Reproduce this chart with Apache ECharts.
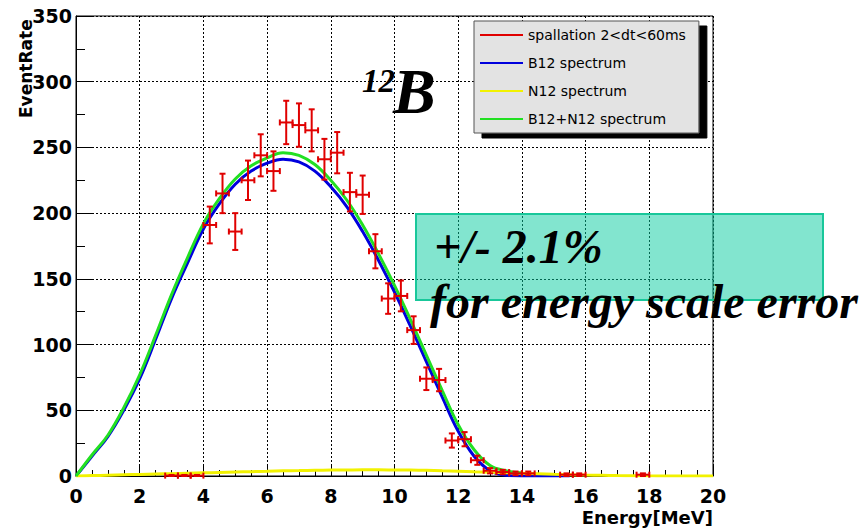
<!DOCTYPE html>
<html>
<head>
<meta charset="utf-8">
<script src="https://cdn.jsdelivr.net/npm/echarts@6/dist/echarts.min.js"></script>
<style>html,body{margin:0;padding:0;background:#fff}#c{width:866px;height:528px}</style>
</head>
<body>
<div id="c"></div>
<script>
// ---- data ----
const binCenters = [3.0, 3.4, 3.8, 4.2, 4.6, 5.0, 5.4, 5.8, 6.2, 6.6, 7.0, 7.4, 7.8, 8.2, 8.6, 9.0, 9.4, 9.8, 10.2, 10.6, 11.0, 11.4, 11.8, 12.2, 12.6, 13.0, 13.4, 13.8, 14.2, 15.4, 15.8, 17.8];
const counts     = [0.3, 0.3, 0.3, 191, 215, 186, 225, 244, 232, 269, 267, 263, 241, 246, 216, 214, 171, 135, 137, 111, 74, 73, 27, 28, 12, 4, 3, 2, 2, 1, 1, 1];
const errors     = [0.5, 0.5, 0.5, 14, 15, 14, 15, 16, 15, 16.5, 16.5, 16, 15.5, 15.7, 14.7, 14.6, 13, 11.6, 11.7, 10.5, 8.6, 8.5, 5.4, 5.4, 3.5, 2, 1.7, 1.4, 1.4, 1, 1, 1];
const binHalfWidth = 0.2;

const curveEnergy = [0, 0.5, 1, 1.5, 2, 2.5, 3, 3.5, 4, 4.5, 5, 5.5, 6, 6.5, 7, 7.5, 8, 8.5, 9, 9.5, 10, 10.5, 11, 11.5, 12, 12.5, 13, 13.5, 14, 14.5, 15, 15.5, 16, 16.5, 17, 17.5, 18, 18.5, 19, 19.5, 20];
const b12Spectrum = [0, 15, 30, 50, 74, 104, 135, 162, 188, 207, 222, 232, 238, 241, 239, 232, 220, 205, 186, 164, 140, 114, 87, 60, 34, 15, 4, 0.5, 0, 0, 0, 0];
const n12Spectrum = [0, 0.3, 0.6, 0.9, 1.2, 1.5, 1.8, 2.1, 2.4, 2.7, 3.0, 3.3, 3.6, 3.9, 4.1, 4.3, 4.5, 4.6, 4.7, 4.7, 4.6, 4.5, 4.3, 4.0, 3.7, 3.3, 2.9, 2.5, 2.1, 1.7, 1.3, 1.0, 0.7, 0.5, 0.3, 0.2, 0.1, 0.05, 0, 0, 0];
const sumSpectrum = [0, 16, 31, 52, 77, 107, 138, 166, 192, 211, 226, 236, 242, 246, 244, 237, 225, 210, 191, 169, 145, 119, 92, 65, 39, 20, 8, 4, 2.3];

const seriesNames = ['spallation 2<dt<60ms', 'B12 spectrum', 'N12 spectrum', 'B12+N12 spectrum'];
const seriesColors = ['#e00000', '#0000dd', '#f2f200', '#22e022'];

const xMin = 0, xMax = 20, xStep = 2;
const yMin = 0, yMax = 350, yStep = 50;

const annotTitleNum = '12';
const annotTitle = 'B';
const annotBox1 = '+/- 2.1%';
const annotBox2 = 'for energy scale error';
const xName = 'Energy[MeV]';
const yName = 'EventRate';

// ---- build ----
const pair = (xs, ys) => ys.map((v, i) => [xs[i], v]);
const pointData = binCenters.map((x, i) => [x, counts[i], errors[i], binHalfWidth]);

function renderErr(params, api) {
  const x = api.value(0), y = api.value(1), e = api.value(2), hw = api.value(3);
  const c = api.coord([x, y]);
  const l = api.coord([x - hw, y]);
  const r = api.coord([x + hw, y]);
  const t = api.coord([x, y + e]);
  const b = api.coord([x, Math.max(0, y - e)]);
  const cap = 3;
  const st = { stroke: seriesColors[0], lineWidth: 2, fill: null };
  const ln = (x1, y1, x2, y2) => ({ type: 'line', shape: { x1, y1, x2, y2 }, style: st });
  return {
    type: 'group',
    children: [
      ln(l[0], c[1], r[0], c[1]),
      ln(c[0], t[1], c[0], b[1]),
      ln(c[0] - cap, t[1], c[0] + cap, t[1]),
      ln(c[0] - cap, b[1], c[0] + cap, b[1]),
      ln(l[0], c[1] - cap, l[0], c[1] + cap),
      ln(r[0], c[1] - cap, r[0], c[1] + cap)
    ]
  };
}

const tickFont = { fontFamily: 'DejaVu Sans', fontWeight: 'bold', fontSize: 19, color: '#000' };
const serifBI = 'Liberation Serif';

const chart = echarts.init(document.getElementById('c'), null, { renderer: 'svg' });
chart.setOption({
  backgroundColor: '#fff',
  animation: false,
  grid: { left: 76, top: 16, right: 153, bottom: 52, show: true, borderColor: '#000', borderWidth: 1, backgroundColor: '#fff' },
  xAxis: {
    type: 'value', min: xMin, max: xMax, interval: xStep,
    axisLine: { lineStyle: { color: '#000', width: 1 } },
    axisTick: { inside: true, length: 12, lineStyle: { color: '#000' } },
    minorTick: { show: true, splitNumber: 4, length: 6, lineStyle: { color: '#000' } },
    splitLine: { show: true, lineStyle: { color: '#000', type: [2, 2], width: 1 } },
    axisLabel: Object.assign({ margin: 10 }, tickFont)
  },
  yAxis: {
    type: 'value', min: yMin, max: yMax, interval: yStep,
    axisLine: { show: true, lineStyle: { color: '#000', width: 1 } },
    axisTick: { show: true, inside: true, length: 16, lineStyle: { color: '#000' } },
    minorTick: { show: true, splitNumber: 2, length: 9, lineStyle: { color: '#000' } },
    splitLine: { show: true, lineStyle: { color: '#000', type: [2, 2], width: 1 } },
    axisLabel: Object.assign({ margin: 4 }, tickFont)
  },
  legend: {
    orient: 'vertical', left: 474, top: 21,
    padding: [7, 13, 7, 6], itemGap: 14, itemWidth: 43, itemHeight: 2,
    backgroundColor: '#e3e3e3', borderColor: '#555', borderWidth: 1,
    shadowColor: '#000', shadowBlur: 0, shadowOffsetX: 8, shadowOffsetY: 5,
    textStyle: { fontFamily: 'DejaVu Sans', fontSize: 14, color: '#000' },
    data: seriesNames.map((n, i) => ({ name: n, icon: 'rect', itemStyle: { color: seriesColors[i] } }))
  },
  series: [
    { name: seriesNames[1], type: 'line', data: pair(curveEnergy, b12Spectrum), smooth: 0.4, symbol: 'none',
      lineStyle: { color: seriesColors[1], width: 3 }, itemStyle: { color: seriesColors[1] }, z: 2 },
    { name: seriesNames[2], type: 'line', data: pair(curveEnergy, n12Spectrum), smooth: 0.4, symbol: 'none',
      lineStyle: { color: seriesColors[2], width: 3 }, itemStyle: { color: seriesColors[2] }, z: 3 },
    { name: seriesNames[3], type: 'line', data: pair(curveEnergy, sumSpectrum), smooth: 0.4, symbol: 'none',
      lineStyle: { color: seriesColors[3], width: 3 }, itemStyle: { color: seriesColors[3] }, z: 4 },
    { name: seriesNames[0], type: 'custom', renderItem: renderErr, data: pointData,
      encode: { x: 0, y: 1 }, itemStyle: { color: seriesColors[0] }, z: 5 }
  ],
  graphic: [
    { type: 'rect', z: 100, shape: { x: 416, y: 214, width: 407, height: 86 },
      style: { fill: 'rgba(5,203,159,0.5)', stroke: '#19c79a', lineWidth: 2 } },
    { type: 'text', z: 101, x: 362, y: 81,
      style: { text: annotTitleNum, fontFamily: serifBI, fontStyle: 'italic', fontWeight: 'bold', fontSize: 33, fill: '#000', verticalAlign: 'middle' } },
    { type: 'text', z: 101, x: 393, y: 91,
      style: { text: annotTitle, fontFamily: serifBI, fontStyle: 'italic', fontWeight: 'bold', fontSize: 64, fill: '#000', verticalAlign: 'middle' } },
    { type: 'text', z: 101, x: 434, y: 246,
      style: { text: annotBox1, fontFamily: serifBI, fontStyle: 'italic', fontWeight: 'bold', fontSize: 48, fill: '#000', verticalAlign: 'middle' } },
    { type: 'text', z: 101, x: 430, y: 301,
      style: { text: annotBox2, fontFamily: serifBI, fontStyle: 'italic', fontWeight: 'bold', fontSize: 48, fill: '#000', verticalAlign: 'middle' } },
    { type: 'text', z: 101, x: 713, y: 517,
      style: { text: xName, fontFamily: 'DejaVu Sans', fontWeight: 'bold', fontSize: 18, fill: '#000', align: 'right', verticalAlign: 'middle' } },
    { type: 'text', z: 101, x: 34, y: 118, rotation: Math.PI / 2,
      style: { text: yName, fontFamily: 'DejaVu Sans', fontWeight: 'bold', fontSize: 17, fill: '#000', align: 'left', verticalAlign: 'bottom' } }
  ]
});
</script>
</body>
</html>
